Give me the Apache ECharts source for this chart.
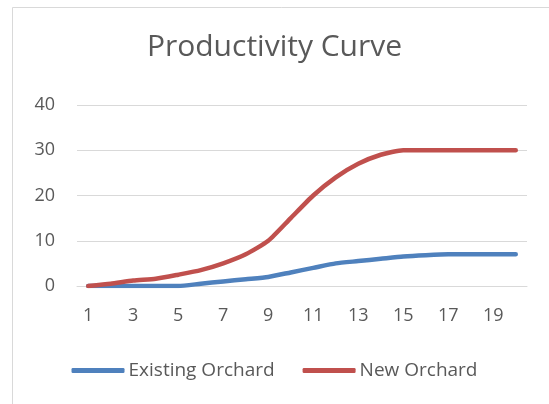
<!DOCTYPE html>
<html>
<head>
<meta charset="utf-8">
<script src="https://cdn.jsdelivr.net/npm/echarts@6/dist/echarts.min.js"></script>
<style>
  html, body { margin: 0; padding: 0; background: #fff; }
  #chart { width: 549px; height: 404px; }
</style>
</head>
<body>
<div id="chart"></div>
<script>
// Years since planting
const years = ['1','2','3','4','5','6','7','8','9','10','11','12','13','14','15','16','17','18','19','20'];
// Yield per year for each orchard
const existingOrchard = [0, 0, 0, 0, 0, 0.5, 1, 1.5, 2, 3, 4, 5, 5.5, 6, 6.5, 6.8, 7, 7, 7, 7];
const newOrchard = [0, 0.5, 1.2, 1.6, 2.5, 3.5, 5, 7, 10, 15, 20, 24, 27, 29, 30, 30, 30, 30, 30, 30];

const textColor = '#595959';
const fontFamily = '"Open Sans", "Noto Sans", sans-serif';

const chart = echarts.init(document.getElementById('chart'), null, { renderer: 'canvas' });
chart.setOption({
  animation: false,
  backgroundColor: '#fff',
  graphic: [{
    type: 'rect',
    shape: { x: 12.5, y: 7.5, width: 560, height: 420 },
    style: { fill: 'none', stroke: '#D9D9D9', lineWidth: 1 },
    silent: true
  }],
  title: {
    text: 'Productivity Curve',
    left: 'center',
    top: 27,
    textStyle: { color: textColor, fontFamily: fontFamily, fontSize: 30, fontWeight: 'normal' }
  },
  legend: {
    top: 356,
    left: 'center',
    itemWidth: 53,
    itemHeight: 5,
    itemGap: 28,
    icon: 'roundRect',
    textStyle: { color: textColor, fontFamily: fontFamily, fontSize: 19, padding: [0, 0, 0, -1] },
    data: ['Existing Orchard', 'New Orchard']
  },
  grid: { left: 77, right: 22, top: 105, bottom: 118, containLabel: false },
  xAxis: {
    type: 'category',
    data: years,
    boundaryGap: true,
    axisLine: { show: true, lineStyle: { color: '#D9D9D9', width: 1 } },
    axisTick: { show: false },
    axisLabel: { interval: 1, color: textColor, fontFamily: fontFamily, fontSize: 18, margin: 21 }
  },
  yAxis: {
    type: 'value',
    min: 0,
    max: 40,
    interval: 10,
    axisLine: { show: false },
    axisTick: { show: false },
    axisLabel: { color: textColor, fontFamily: fontFamily, fontSize: 18, margin: 22 },
    splitLine: { lineStyle: { color: '#D9D9D9', width: 1 } }
  },
  series: [
    {
      name: 'Existing Orchard',
      type: 'line',
      data: existingOrchard,
      smooth: 0.2,
      showSymbol: false,
      color: '#4F81BD',
      lineStyle: { width: 4.5, cap: 'round', join: 'round' }
    },
    {
      name: 'New Orchard',
      type: 'line',
      data: newOrchard,
      smooth: 0.2,
      showSymbol: false,
      color: '#C0504D',
      lineStyle: { width: 4.5, cap: 'round', join: 'round' }
    }
  ]
});
</script>
</body>
</html>
